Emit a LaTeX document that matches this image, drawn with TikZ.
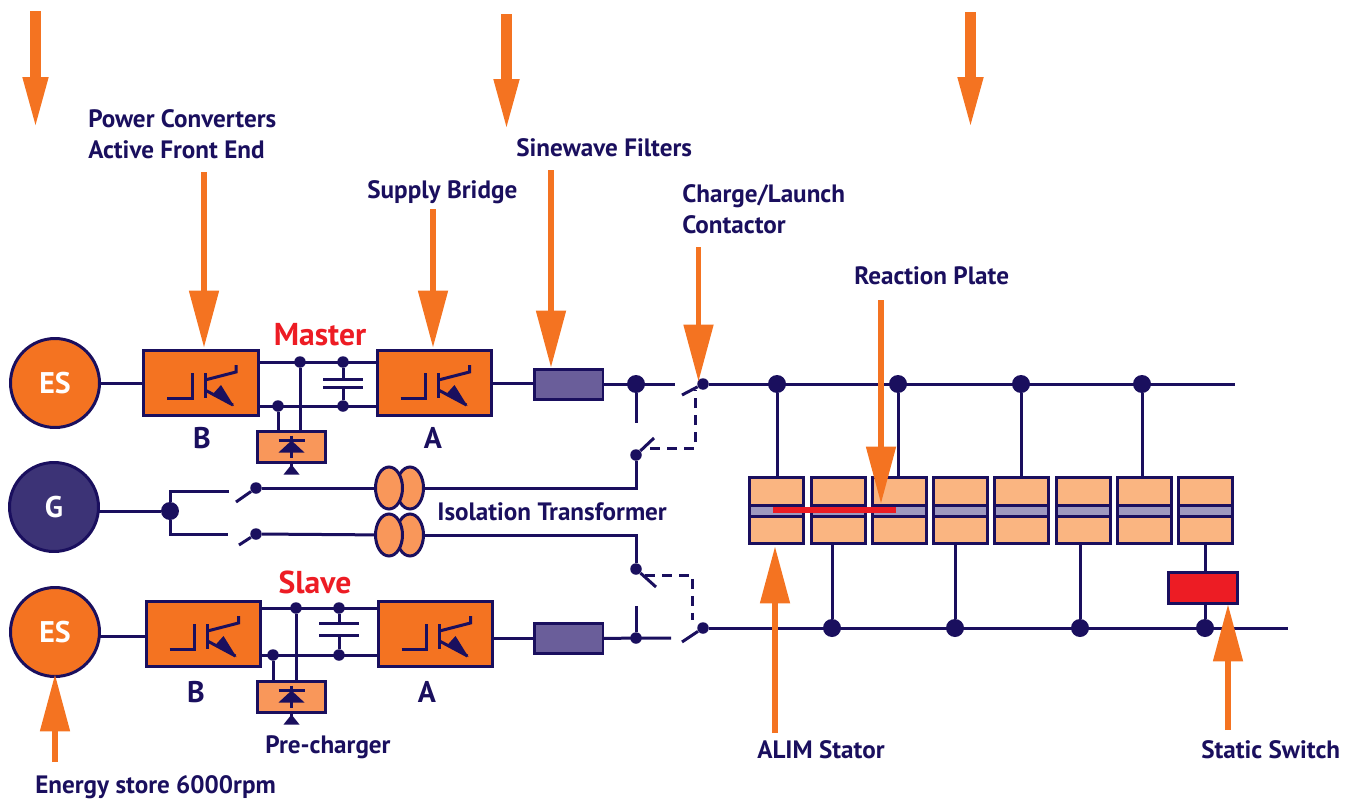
\documentclass[tikz,border=0pt]{standalone}
\usepackage{fontspec}
\setmainfont{PT Sans}
\usepackage{tikz}
\usetikzlibrary{arrows.meta,shapes.geometric}
\definecolor{navy}{HTML}{1A0F5E}
\definecolor{drive}{HTML}{F47321}
\definecolor{soft}{HTML}{F9975A}
\definecolor{pale}{HTML}{FAB581}
\definecolor{filt}{HTML}{6A5E9A}
\definecolor{band}{HTML}{9E99BF}
\definecolor{alarm}{HTML}{ED1C24}
\newcommand{\igbt}[2]{%
  \begin{scope}[shift={(#1,#2)}]
    \draw[wire] (-34,15) -- (-9,15) -- (-9,-10);
    \draw[wire] (4,-10) -- (4,15);
    \draw[wire] (4,-3) -- (35,-11) -- (35,-18);
    \draw[wire] (4,7) -- (32,22);
    \fill[navy] (33,23) -- (20,2) -- (11,12) -- cycle;
  \end{scope}}
\newcommand{\rectifier}[2]{%
  \begin{scope}[shift={(#1,#2)}]
    \draw[wire] (-13,-6) -- (13,-6);
    \draw[wire] (0,-11) -- (0,11);
    \fill[navy] (-13,6) -- (13,6) -- (0,-6) -- cycle;
    \draw[wire] (0,16) -- (0,22);
    \fill[navy] (-8,28) -- (8,28) -- (0,18) -- cycle;
  \end{scope}}
\begin{document}
\begin{tikzpicture}[
  x=0.02cm,y=-0.02cm,
  wire/.style={navy,line width=0.06cm},
  link/.style={navy,line width=0.06cm,dash pattern=on 0.2cm off 0.14cm},
  conv/.style={draw=navy,fill=drive,line width=0.06cm,minimum width=2.3cm,
               minimum height=1.3cm,inner sep=0,outer sep=0},
  charger/.style={draw=navy,fill=soft,line width=0.06cm,minimum width=1.36cm,
               minimum height=0.62cm,inner sep=0,outer sep=0},
  filter/.style={draw=navy,fill=filt,line width=0.06cm,minimum width=1.38cm,
               minimum height=0.6cm,inner sep=0,outer sep=0},
  stator/.style={draw=navy,fill=pale,line width=0.06cm,minimum width=1.08cm,
               minimum height=1.34cm,inner sep=0,outer sep=0},
  gap/.style={draw=navy,fill=band,line width=0.06cm,minimum width=1.08cm,
               minimum height=0.22cm,inner sep=0,outer sep=0},
  machine/.style={circle,draw=navy,line width=0.06cm,minimum size=1.78cm,inner sep=0,
               outer sep=0,text=white,font=\fontsize{17}{20}\selectfont\bfseries},
  coil/.style={ellipse,draw=navy,fill=soft,line width=0.06cm,minimum width=0.54cm,
               minimum height=0.84cm,inner sep=0},
  dot/.style={circle,fill=navy,inner sep=0,minimum size=0.36cm},
  small/.style={circle,fill=navy,inner sep=0,minimum size=0.23cm},
  feed/.style={drive,line width=0.21cm,-{Triangle[length=0.96cm,width=0.53cm,line width=0pt]}},
  thin feed/.style={drive,line width=0.11cm,-{Triangle[length=1.13cm,width=0.61cm,line width=0pt]}},
  lab/.style={text=navy,font=\fontsize{14.3}{17.6}\selectfont\bfseries,align=left,
              inner sep=0,anchor=west},
  tag/.style={text=navy,font=\fontsize{17}{20}\selectfont\bfseries,inner sep=0},
  role/.style={text=alarm,font=\fontsize{18}{20}\selectfont\bfseries,inner sep=0}
]
\useasboundingbox (0,0) rectangle (1356,801);
% machines
\node[machine,fill=drive] (esM) at (55,383) {ES};
\node[machine,fill=navy!85] (gen) at (54,507) {G};
\node[machine,fill=drive] (esS) at (55,632) {ES};
% converters
\node[conv] (bM) at (201,383) {};
\node[conv] (aM) at (434.5,383) {};
\node[conv] (bS) at (203.5,634) {};
\node[conv] (aS) at (435.5,634) {};
\igbt{201}{383}
\igbt{434.5}{383}
\igbt{203.5}{634}
\igbt{435.5}{634}
\node[tag] (bMlab) at (202,438) {B};
\node[tag] (aMlab) at (433,438) {A};
\node[tag] (bSlab) at (196,692) {B};
\node[tag] (aSlab) at (427,692) {A};
\node[role] (master) at (320,335) {Master};
\node[role] (slave) at (315,582) {Slave};
% pre-chargers
\node[charger] (preM) at (291.5,446.5) {};
\node[charger] (preS) at (291.5,696.5) {};
\rectifier{291.5}{446.5}
\rectifier{291.5}{696.5}
% dc link master
\node[small] (mT1) at (300,362) {};
\node[small] (mT2) at (343,362) {};
\node[small] (mB1) at (278,406) {};
\node[small] (mB2) at (343,406) {};
\draw[wire] (bM.east |- mT1) -- (aM.west |- mT1);
\draw[wire] (bM.east |- mB1) -- (aM.west |- mB1);
\draw[wire] (mT1) -- (mT1 |- preM.north);
\draw[wire] (mB1) -- (mB1 |- preM.north);
\coordinate (mCa) at (343,379);
\coordinate (mCb) at (343,387);
\draw[wire] (mT2) -- (mCa);
\draw[wire] (mB2) -- (mCb);
\draw[wire] ([xshift=-20*0.02cm]mCa) -- ([xshift=20*0.02cm]mCa);
\draw[wire] ([xshift=-20*0.02cm]mCb) -- ([xshift=20*0.02cm]mCb);
% dc link slave
\node[small] (sT1) at (296,608) {};
\node[small] (sT2) at (339,608) {};
\node[small] (sB1) at (273,655) {};
\node[small] (sB2) at (339,655) {};
\draw[wire] (bS.east |- sT1) -- (aS.west |- sT1);
\draw[wire] (bS.east |- sB1) -- (aS.west |- sB1);
\draw[wire] (sT1) -- (sT1 |- preS.north);
\draw[wire] (sB1) -- (sB1 |- preS.north);
\coordinate (sCa) at (339,623);
\coordinate (sCb) at (339,635);
\draw[wire] (sT2) -- (sCa);
\draw[wire] (sB2) -- (sCb);
\draw[wire] ([xshift=-20*0.02cm]sCa) -- ([xshift=20*0.02cm]sCa);
\draw[wire] ([xshift=-20*0.02cm]sCb) -- ([xshift=20*0.02cm]sCb);
% filters and contactors
\node[filter] (fM) at (568.5,384) {};
\node[filter] (fS) at (568.5,638.5) {};
\node[dot] (jM) at (636,384) {};
\node[small] (jS) at (636,638) {};
\node[small] (contM) at (703,384) {};
\node[small] (contS) at (703,628) {};
\coordinate (gapM) at (675,384);
\coordinate (gapS) at (671,638);
\coordinate (stubM) at (636,423);
\coordinate (stubS) at (636,606);
\coordinate (feedS) at (99,636);
\draw[wire] (esM) -- (bM);
\draw[wire] (feedS) -- (feedS -| bS.west);
\draw[wire] (aM) -- (fM.west |- aM);
\draw[wire] (aS.east |- fS) -- (fS);
\draw[wire] (fM) -- (gapM);
\draw[wire] (fS) -- (gapS);
\draw[wire] (jM) -- (stubM);
\draw[wire] (jS) -- (stubS);
% isolation transformer
\node[coil] (t1b) at (410,488) {};
\node[coil] (t1a) at (389,488) {};
\node[coil] (t2b) at (410,535) {};
\node[coil] (t2a) at (389,535) {};
\node[small] (swU) at (256,488) {};
\node[small] (swL) at (256,534) {};
\node[dot] (jG) at (170,511) {};
\node[small] (swA) at (636,455) {};
\node[small] (swB) at (636,569) {};
\coordinate (tapU) at (229,491);
\coordinate (tapL) at (228,534);
\draw[wire] (jG -| gen.east) -- (jG);
\draw[wire] (tapU) -| (jG) |- (tapL);
\draw[wire] (swU) -- (t1a);
\draw[wire] (swL) -- (t2a);
\draw[wire] (t1b) -| (swA);
\draw[wire] (t2b) -| (swB);
\foreach \sw/\ex/\ey in {swU/236/502,swL/239/545,swA/654/438,swB/656/587,contM/682/395,contS/682/642}{
  \coordinate (\sw end) at (\ex,\ey);
  \draw[wire] (\sw) -- (\sw end);
}
\coordinate (lnkA) at (650,448);
\coordinate (lnkB) at (695,390);
\coordinate (lnkC) at (645,575);
\coordinate (lnkD) at (692,620);
\draw[link] (lnkA) -| (lnkB);
\draw[link] (lnkC) -| (lnkD);
% stators
\foreach \i/\x in {1/776,2/838,3/899,4/960,5/1021,6/1083,7/1144,8/1205}{
  \node[stator] (st\i) at (\x,510.5) {};
  \node[gap] (gp\i) at (\x,510.5) {};
}
\coordinate (busMend) at (1235,384);
\coordinate (busSend) at (1288,628);
\draw[wire] (contM) -- (busMend);
\draw[wire] (contS) -- (busSend);
\foreach \i/\x/\n in {1/777/1,2/898/3,3/1021/5,4/1142/7}{
  \node[dot] (up\i) at (\x,384) {};
  \draw[wire] (up\i) -- (up\i |- st\n.north);
}
\foreach \i/\x/\n in {1/832/2,2/955/4,3/1080/6,4/1205/8}{
  \node[dot] (dn\i) at (\x,628) {};
  \draw[wire] (dn\i) -- (dn\i |- st\n.south);
}
\node[draw=navy,fill=alarm,line width=0.06cm,minimum width=1.38cm,minimum height=0.62cm,
      inner sep=0,outer sep=0] (switch) at (1202.5,587.5) {};
\coordinate (plateA) at (773,510);
\coordinate (plateB) at (896,510);
\draw[alarm,line width=0.12cm] (plateA) -- (plateB);
% labels
\node[lab] (lConv) at (88,134.5) {Power Converters\\Active Front End};
\node[lab] (lBridge) at (367,192) {Supply Bridge};
\node[lab] (lFilter) at (516,148) {Sinewave Filters};
\node[lab] (lCont) at (682,209.5) {Charge/Launch\\Contactor};
\node[lab] (lPlate) at (854,276) {Reaction Plate};
\node[lab] (lIso) at (437,512) {Isolation Transformer};
\node[lab] (lPre) at (265,747) {Pre-charger};
\node[lab] (lStore) at (35,787) {Energy store 6000rpm};
\node[lab] (lAlim) at (757,750) {ALIM Stator};
\node[lab] (lStatic) at (1201,750) {Static Switch};
% pointers
\foreach \nm/\x/\ya/\yb in {tA/35.5/11/125,tB/506.5/14/127,tC/970.5/12/125}{
  \coordinate (\nm a) at (\x,\ya);
  \coordinate (\nm b) at (\x,\yb);
  \draw[feed] (\nm a) -- (\nm b);
}
\foreach \nm/\x/\ya/\yb in {pConv/204/172/347,pBridge/433/209/347,pFilter/551/170/367,
    pCont/698.5/247/381,pPlate/881/300/503,pAlim/775/733/547,
    pStatic/1228/730/605,pStore/55/762/675}{
  \coordinate (\nm a) at (\x,\ya);
  \coordinate (\nm b) at (\x,\yb);
  \draw[thin feed] (\nm a) -- (\nm b);
}
\end{tikzpicture}
\end{document}
